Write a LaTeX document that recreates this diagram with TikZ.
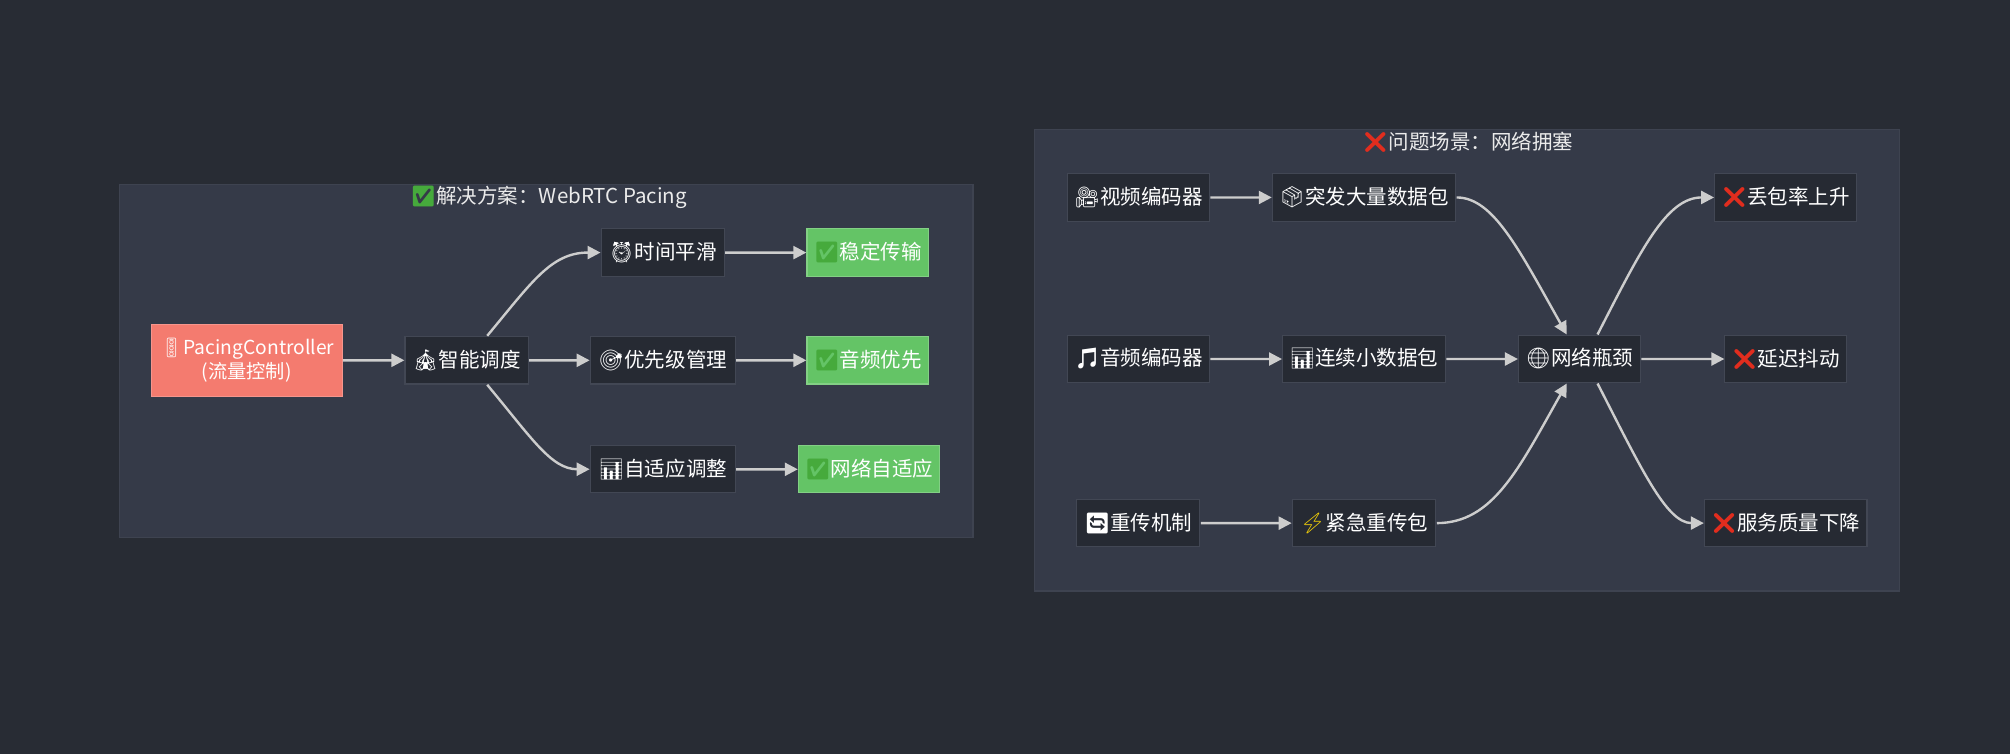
\documentclass[tikz,border=0pt]{standalone}
\usepackage{fontspec}
\usetikzlibrary{arrows.meta}
\newfontfamily\cjk{Noto Sans CJK SC}
\newfontfamily\emofont{Noto Emoji}
\newcommand{\emo}[2][white]{{\emofont\color{#1}#2}}
\definecolor{bgc}{RGB}{40,44,52}
\definecolor{clc}{RGB}{53,58,72}
\definecolor{clb}{RGB}{62,67,80}
\definecolor{nodec}{RGB}{38,42,51}
\definecolor{nodeb}{RGB}{66,71,84}
\definecolor{edgec}{RGB}{205,205,205}
\definecolor{salmon}{RGB}{244,123,111}
\definecolor{okgreen}{RGB}{100,196,102}
\definecolor{chk}{RGB}{70,170,60}
\definecolor{xred}{RGB}{225,45,30}
\begin{document}
\begin{tikzpicture}[x=1pt,y=-1pt,scale=1.282,every node/.append style={transform shape},
  box/.style={draw=nodeb, fill=nodec, text=white, minimum height=37, inner xsep=5,
    font=\cjk\fontsize{16}{19}\selectfont, line width=1.2},
  okbox/.style={box, fill=okgreen, draw=okgreen!80!white},
  cluster/.style={fill=clc, draw=clb, line width=1.2},
  ctitle/.style={text=white!92!black, font=\cjk\fontsize{16}{19}\selectfont},
  arr/.style={draw=edgec, line width=2.4, -{Triangle[length=13,width=13]}}]
\fill[bgc] (0,0) rectangle (1568,588);
\useasboundingbox (0,0) rectangle (1568,588);
% clusters
\draw[cluster] (93,144) rectangle (759,419);
\node[ctitle] (t1) at (428,154) {\emo[chk]{✅}解决方案：WebRTC Pacing};
\draw[cluster] (807,101) rectangle (1482,461);
\node[ctitle] (t2) at (1145,111) {\emo[xred]{❌}问题场景：网络拥塞};
% left nodes
\node[box, fill=salmon, draw=salmon!80!white, minimum width=149, minimum height=56, inner xsep=2, align=center, font=\cjk\fontsize{15}{18}\selectfont] (pc) at (192.5,281) {\emo[white]{🚦}PacingController\\(流量控制)};
\node[box, minimum width=96] (zn) at (364,281) {\emo{🎪}智能调度};
\node[box, minimum width=96] (sj) at (517,197) {\emo{⏰}时间平滑};
\node[box, minimum width=113] (yx) at (517,281) {\emo{🎯}优先级管理};
\node[box, minimum width=113] (zs) at (517,366) {\emo{📊}自适应调整};
\node[okbox, minimum width=95] (wd) at (677,197) {\emo[chk]{✅}稳定传输};
\node[okbox, minimum width=95] (yp) at (677,281) {\emo[chk]{✅}音频优先};
\node[okbox, minimum width=110] (wl) at (678,366) {\emo[chk]{✅}网络自适应};
\draw[arr] (pc) -- (zn);
\draw[arr] (zn) -- (yx);
\draw[arr] ([xshift=16]zn.north) .. controls (415,220) and (430,197) .. (sj.west);
\draw[arr] ([xshift=16]zn.south) .. controls (415,342) and (430,366) .. (zs.west);
\draw[arr] (sj) -- (wd);
\draw[arr] (yx) -- (yp);
\draw[arr] (zs) -- (wl);
% right nodes
\node[box, minimum width=111] (vb) at (888,154) {\emo{🎥}视频编码器};
\node[box, minimum width=143] (tf) at (1064,154) {\emo{📦}突发大量数据包};
\node[box, minimum width=111] (ds) at (1393,154) {\emo[xred]{❌}丢包率上升};
\node[box, minimum width=111] (ab) at (888,280) {\emo{🎵}音频编码器};
\node[box, minimum width=127] (lx) at (1064,280) {\emo{📊}连续小数据包};
\node[box, minimum width=95] (bn) at (1232,280) {\emo{🌐}网络瓶颈};
\node[box, minimum width=95] (yc) at (1393,280) {\emo[xred]{❌}延迟抖动};
\node[box, minimum width=96] (cc) at (888,408) {\emo{🔄}重传机制};
\node[box, minimum width=112] (jj) at (1064,408) {\emo[xred!20!yellow]{⚡}紧急重传包};
\node[box, minimum width=127] (fw) at (1393,408) {\emo[xred]{❌}服务质量下降};
\draw[arr] (vb) -- (tf);
\draw[arr] (ab) -- (lx);
\draw[arr] (cc) -- (jj);
\draw[arr] (lx) -- (bn);
\draw[arr] (bn) -- (yc);
\draw[arr] (tf.east) .. controls (1165,154) and (1185,195) .. ([xshift=-10]bn.north);
\draw[arr] (jj.east) .. controls (1165,408) and (1185,365) .. ([xshift=-10]bn.south);
\draw[arr] ([xshift=14]bn.north) .. controls (1280,195) and (1300,154) .. (ds.west);
\draw[arr] ([xshift=14]bn.south) .. controls (1280,365) and (1300,408) .. (fw.west);
\end{tikzpicture}
\end{document}
